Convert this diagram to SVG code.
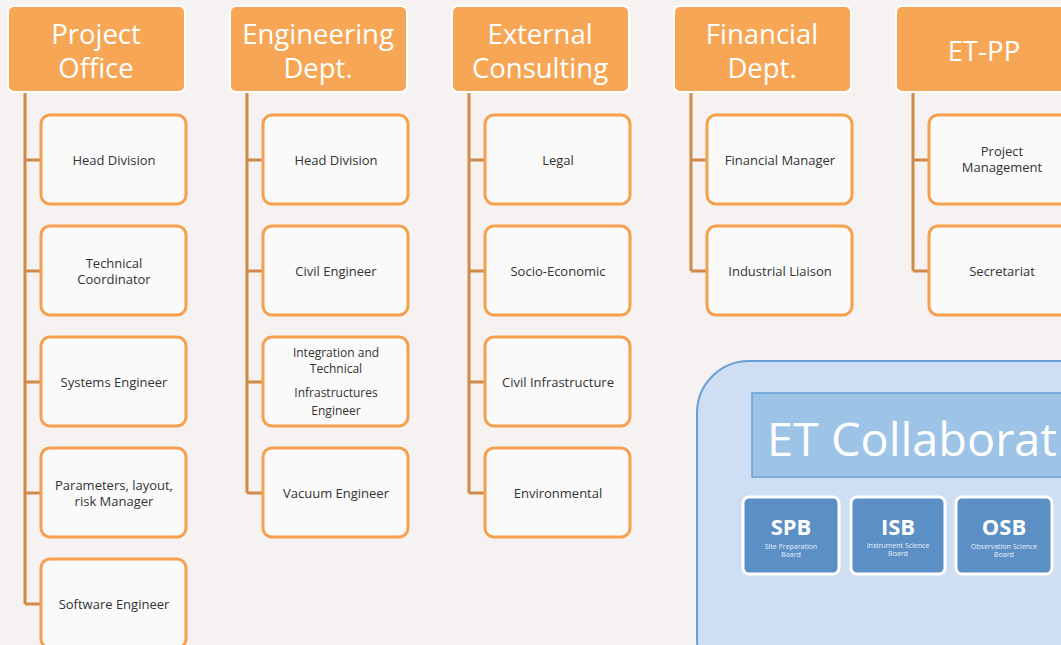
<svg xmlns="http://www.w3.org/2000/svg" width="1061" height="645" viewBox="0 0 1061 645">
<style>
.hd{fill:#f7a655;stroke:#ffffff;stroke-width:2}
.ht{fill:#ffffff;font-family:"Open Sans","Liberation Sans",sans-serif;font-size:27.5px;text-anchor:middle}
.ch{fill:#fafafa;stroke:#f6a04d;stroke-width:3}
.ct{fill:#333333;font-family:"Open Sans","Liberation Sans",sans-serif;font-size:13px;text-anchor:middle}
.cs{fill:#333333;font-family:"Open Sans","Liberation Sans",sans-serif;font-size:12px;text-anchor:middle}
.ln{stroke:#d08a48;stroke-width:3;fill:none}
.bd{fill:#5b8fc5;stroke:#ffffff;stroke-width:3}
.bt{fill:#ffffff;font-family:"Open Sans","Liberation Sans",sans-serif;font-size:22px;font-weight:bold;text-anchor:middle}
.bs{fill:#e8f0fa;font-family:"Open Sans","Liberation Sans",sans-serif;font-size:7px;text-anchor:middle}
</style>
<rect x="0" y="0" width="1061" height="645" fill="#f5f2f1"/>
<g id="connectors">
<path class="ln" d="M25 92V604M25 160H41M25 271H41M25 382H41M25 493H41M25 604H41"/>
<path class="ln" d="M247 92V493M247 160H263M247 271H263M247 382H263M247 493H263"/>
<path class="ln" d="M469 92V493M469 160H485M469 271H485M469 382H485M469 493H485"/>
<path class="ln" d="M691 92V271M691 160H707M691 271H707"/>
<path class="ln" d="M913 92V271M913 160H929M913 271H929"/>
</g>
<g id="project-office"><rect class="hd" x="8" y="6" width="177" height="86" rx="6"/><text class="ht" x="96" y="44">Project</text><text class="ht" x="96" y="78">Office</text></g>
<g id="engineering"><rect class="hd" x="230" y="6" width="177" height="86" rx="6"/><text class="ht" x="318" y="44">Engineering</text><text class="ht" x="318" y="78">Dept.</text></g>
<g id="external"><rect class="hd" x="452" y="6" width="177" height="86" rx="6"/><text class="ht" x="540" y="44">External</text><text class="ht" x="540" y="78">Consulting</text></g>
<g id="financial"><rect class="hd" x="674" y="6" width="177" height="86" rx="6"/><text class="ht" x="762" y="44">Financial</text><text class="ht" x="762" y="78">Dept.</text></g>
<g id="etpp"><rect class="hd" x="896" y="6" width="177" height="86" rx="6"/><text class="ht" x="984" y="61">ET-PP</text></g>

<g id="po-head"><rect class="ch" x="41" y="115" width="145" height="89" rx="9"/><text class="ct" x="114" y="165">Head Division</text></g>
<g id="po-tech"><rect class="ch" x="41" y="226" width="145" height="89" rx="9"/><text class="ct" x="114" y="268">Technical</text><text class="ct" x="114" y="284">Coordinator</text></g>
<g id="po-sys"><rect class="ch" x="41" y="337" width="145" height="89" rx="9"/><text class="ct" x="114" y="387">Systems Engineer</text></g>
<g id="po-param"><rect class="ch" x="41" y="448" width="145" height="89" rx="9"/><text class="ct" x="114" y="490">Parameters, layout,</text><text class="ct" x="114" y="506">risk Manager</text></g>
<g id="po-soft"><rect class="ch" x="41" y="559" width="145" height="89" rx="9"/><text class="ct" x="114" y="609">Software Engineer</text></g>

<g id="en-head"><rect class="ch" x="263" y="115" width="145" height="89" rx="9"/><text class="ct" x="336" y="165">Head Division</text></g>
<g id="en-civil"><rect class="ch" x="263" y="226" width="145" height="89" rx="9"/><text class="ct" x="336" y="276">Civil Engineer</text></g>
<g id="en-int"><rect class="ch" x="263" y="337" width="145" height="89" rx="9"/><text class="cs" x="336" y="357">Integration and</text><text class="cs" x="336" y="373">Technical</text><text class="cs" x="336" y="397">Infrastructures</text><text class="cs" x="336" y="415">Engineer</text></g>
<g id="en-vac"><rect class="ch" x="263" y="448" width="145" height="89" rx="9"/><text class="ct" x="336" y="498">Vacuum Engineer</text></g>

<g id="ex-legal"><rect class="ch" x="485" y="115" width="145" height="89" rx="9"/><text class="ct" x="558" y="165">Legal</text></g>
<g id="ex-socio"><rect class="ch" x="485" y="226" width="145" height="89" rx="9"/><text class="ct" x="558" y="276">Socio-Economic</text></g>
<g id="ex-civil"><rect class="ch" x="485" y="337" width="145" height="89" rx="9"/><text class="ct" x="558" y="387">Civil Infrastructure</text></g>
<g id="ex-env"><rect class="ch" x="485" y="448" width="145" height="89" rx="9"/><text class="ct" x="558" y="498">Environmental</text></g>

<g id="fi-man"><rect class="ch" x="707" y="115" width="145" height="89" rx="9"/><text class="ct" x="780" y="165">Financial Manager</text></g>
<g id="fi-ind"><rect class="ch" x="707" y="226" width="145" height="89" rx="9"/><text class="ct" x="780" y="276">Industrial Liaison</text></g>

<g id="pp-pm"><rect class="ch" x="929" y="115" width="145" height="89" rx="9"/><text class="ct" x="1002" y="156">Project</text><text class="ct" x="1002" y="172">Management</text></g>
<g id="pp-sec"><rect class="ch" x="929" y="226" width="145" height="89" rx="9"/><text class="ct" x="1002" y="276">Secretariat</text></g>

<g id="et-collab">
<rect x="697" y="361" width="420" height="330" rx="52" fill="#cfdff3" stroke="#6a9fd6" stroke-width="2"/>
<rect x="752" y="393" width="340" height="84" fill="#9dc3e6" stroke="#6a9fd6" stroke-width="1.5"/>
<text x="767" y="456" fill="#ffffff" font-family="'Open Sans','Liberation Sans',sans-serif" font-size="46" textLength="290" lengthAdjust="spacingAndGlyphs">ET Collaborat</text>
</g>
<g id="spb"><rect class="bd" x="743" y="497" width="96" height="77" rx="6"/><text class="bt" x="791" y="535">SPB</text><text class="bs" x="791" y="549">Site Preparation</text><text class="bs" x="791" y="557">Board</text></g>
<g id="isb"><rect class="bd" x="851" y="497" width="94" height="77" rx="6"/><text class="bt" x="898" y="535">ISB</text><text class="bs" x="898" y="548">Instrument Science</text><text class="bs" x="898" y="556">Board</text></g>
<g id="osb"><rect class="bd" x="956" y="497" width="96" height="77" rx="6"/><text class="bt" x="1004" y="535">OSB</text><text class="bs" x="1004" y="549">Observation Science</text><text class="bs" x="1004" y="557">Board</text></g>
</svg>
